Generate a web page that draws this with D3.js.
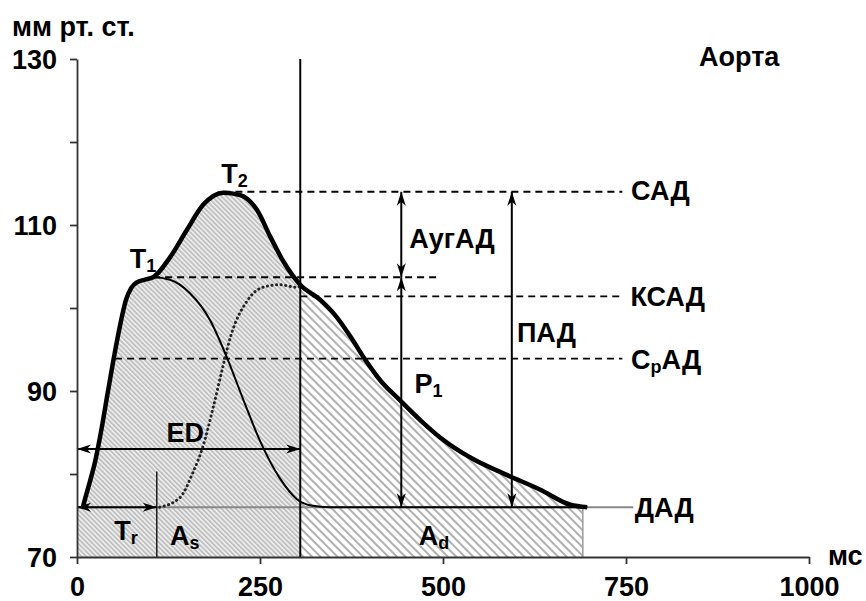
<!DOCTYPE html>
<html>
<head>
<meta charset="utf-8">
<script src="https://cdn.jsdelivr.net/npm/d3@7"></script>
<style>
  body { margin: 0; background: #fff; }
  text { font-family: "Liberation Sans", Arial, sans-serif; font-weight: bold; fill: #000; }
</style>
</head>
<body>
<svg id="chart" width="866" height="601"></svg>
<script>
// pressure curve in the aorta, ms / mm Hg
const mainMs   = [8, 11, 18, 25, 33, 42, 52, 60, 67, 74, 82, 92, 104, 127, 150, 172, 200, 223, 246, 264, 282, 305, 332, 352, 374, 392, 415, 441, 470, 496, 541, 587, 633, 674, 697];
const mainP    = [76, 77.0, 79.2, 81.6, 85.2, 89.8, 94.8, 98.4, 101.0, 102.4, 103.1, 103.4, 103.7, 106.1, 109.4, 112.4, 113.9, 113.6, 111.8, 108.6, 105.6, 102.8, 101.0, 99.2, 96.5, 94.0, 91.2, 88.9, 86.4, 84.4, 81.8, 79.9, 78.1, 76.3, 76];
// forward (first) wave
const waveMs   = [8, 11, 18, 25, 33, 42, 52, 60, 67, 74, 82, 92, 104, 127, 154, 182, 205, 227, 250, 277, 300, 320, 345, 697];
const waveP    = [76, 77.0, 79.2, 81.6, 85.2, 89.8, 94.8, 98.4, 101.0, 102.4, 103.1, 103.4, 103.7, 103.4, 101.8, 98.5, 94.0, 89.0, 84.0, 79.5, 77.0, 76.2, 76, 76];
// reflected wave
const reflMs   = [113, 141, 158, 172, 186, 200, 210, 232, 254, 277, 300, 305];
const reflP    = [76, 77.2, 80.1, 83.3, 88, 93.2, 96.6, 100.8, 102.5, 102.8, 102.5, 102.6];

const SAD = 114, T1P = 103.7, KSAD = 101.4, SrAD = 93.9, DAD = 76;
const edLevel = 83;
const ejectEnd = 305, trEnd = 109, cycleEnd = 691, arrowP1 = 443, arrowPAD = 594;

const xTicks = [0, 250, 500, 750, 1000];
const yTicks = [70, 80, 90, 100, 110, 120, 130];
const yLabels = [70, 90, 110, 130];

const FS = 27, SUB = 18;

const svg = d3.select("#chart");
const x = d3.scaleLinear().domain([0, 1000]).range([77, 809]);
const y = d3.scaleLinear().domain([70, 130]).range([557, 59]);

const zip = (a, b) => a.map((d, i) => [d, b[i]]);
const mainData = zip(mainMs, mainP);
const waveData = zip(waveMs, waveP);
const reflData = zip(reflMs, reflP);

const defs = svg.append("defs");

// fine hatch for the systolic part
const pS = defs.append("pattern")
    .attr("id", "hatchS")
    .attr("patternUnits", "userSpaceOnUse")
    .attr("width", 3.4).attr("height", 10)
    .attr("patternTransform", "rotate(-45)");
pS.append("rect").attr("width", 3.4).attr("height", 10).attr("fill", "#ececec");
pS.append("line").attr("x1", 0.8).attr("x2", 0.8).attr("y1", 0).attr("y2", 10)
    .attr("stroke", "#b2b2b2").attr("stroke-width", 1.3);

// coarse hatch for the diastolic part
const pD = defs.append("pattern")
    .attr("id", "hatchD")
    .attr("patternUnits", "userSpaceOnUse")
    .attr("width", 6).attr("height", 10)
    .attr("patternTransform", "rotate(-45)");
pD.append("rect").attr("width", 6).attr("height", 10).attr("fill", "#fff");
pD.append("line").attr("x1", 1).attr("x2", 1).attr("y1", 0).attr("y2", 10)
    .attr("stroke", "#a8a8a8").attr("stroke-width", 1.8);

defs.append("clipPath").attr("id", "clipS")
    .append("rect")
    .attr("x", x(0)).attr("y", y(130))
    .attr("width", x(ejectEnd) - x(0)).attr("height", y(70) - y(130));
defs.append("clipPath").attr("id", "clipD")
    .append("rect")
    .attr("x", x(ejectEnd)).attr("y", y(130))
    .attr("width", x(cycleEnd) - x(ejectEnd)).attr("height", y(70) - y(130));

// arrowhead
defs.append("marker")
    .attr("id", "arrow")
    .attr("viewBox", "-15 -6 17 12")
    .attr("markerWidth", 17).attr("markerHeight", 12)
    .attr("markerUnits", "userSpaceOnUse")
    .attr("refX", 0).attr("refY", 0)
    .attr("orient", "auto-start-reverse")
    .append("path")
    .attr("d", "M0,0 L-14,-4.5 L-10,0 L-14,4.5 Z")
    .attr("fill", "#000");

const curve = d3.curveMonotoneX;
const line = d3.line().x(d => x(d[0])).y(d => y(d[1])).curve(curve);
const area = d3.area().x(d => x(d[0])).y0(y(70)).y1(d => y(d[1])).curve(curve);

const areaData = [[0, DAD]].concat(mainData);
svg.append("path").attr("d", area(areaData)).attr("fill", "url(#hatchS)").attr("clip-path", "url(#clipS)");
svg.append("path").attr("d", area(areaData)).attr("fill", "url(#hatchD)").attr("clip-path", "url(#clipD)");

// right edge of the diastolic area
svg.append("line")
    .attr("x1", x(cycleEnd)).attr("x2", x(cycleEnd))
    .attr("y1", y(DAD)).attr("y2", y(70))
    .attr("stroke", "#999").attr("stroke-width", 1.5);

// ДАД baseline
svg.append("line")
    .attr("x1", x(0)).attr("x2", x(760))
    .attr("y1", y(DAD)).attr("y2", y(DAD))
    .attr("stroke", "#888").attr("stroke-width", 2);

// dashed levels
const dashed = [
    [200, 745, SAD],
    [104, 496, T1P],
    [ejectEnd, 745, KSAD],
    [52, 745, SrAD]
];
svg.append("g").selectAll("line").data(dashed).join("line")
    .attr("x1", d => x(d[0])).attr("x2", d => x(d[1]))
    .attr("y1", d => y(d[2])).attr("y2", d => y(d[2]))
    .attr("stroke", "#000").attr("stroke-width", 1.9)
    .attr("stroke-dasharray", "7,5");

// end of ejection
svg.append("line")
    .attr("x1", x(ejectEnd)).attr("x2", x(ejectEnd))
    .attr("y1", y(130)).attr("y2", y(70))
    .attr("stroke", "#000").attr("stroke-width", 2);

// Tr boundary
svg.append("line")
    .attr("x1", x(trEnd)).attr("x2", x(trEnd))
    .attr("y1", y(80.3)).attr("y2", y(70))
    .attr("stroke", "#000").attr("stroke-width", 1.3);

// curves
svg.append("path").attr("d", line(reflData))
    .attr("fill", "none").attr("stroke", "#222").attr("stroke-width", 3)
    .attr("stroke-dasharray", "0.1,4.5").attr("stroke-linecap", "round");
svg.append("path").attr("d", line(waveData))
    .attr("fill", "none").attr("stroke", "#000").attr("stroke-width", 2);
svg.append("path").attr("d", line(mainData))
    .attr("fill", "none").attr("stroke", "#000").attr("stroke-width", 4.5)
    .attr("stroke-linejoin", "round");

// arrows
const arrows = [
    [0, edLevel, ejectEnd, edLevel],
    [0, DAD, trEnd, DAD],
    [arrowP1, SAD, arrowP1, T1P],
    [arrowP1, T1P, arrowP1, DAD],
    [arrowPAD, SAD, arrowPAD, DAD]
];
svg.append("g").selectAll("line").data(arrows).join("line")
    .attr("x1", d => x(d[0])).attr("y1", d => y(d[1]))
    .attr("x2", d => x(d[2])).attr("y2", d => y(d[3]))
    .attr("stroke", "#000").attr("stroke-width", 2)
    .attr("marker-start", "url(#arrow)").attr("marker-end", "url(#arrow)");

// axes
const yAxis = svg.append("g")
    .attr("transform", `translate(${x(0)},0)`)
    .call(d3.axisLeft(y).tickValues(yTicks).tickSize(7).tickSizeOuter(0).tickPadding(13)
        .tickFormat(d => yLabels.includes(d) ? d : ""));
const xAxis = svg.append("g")
    .attr("transform", `translate(0,${y(70)})`)
    .call(d3.axisBottom(x).tickValues(xTicks).tickSize(7).tickSizeOuter(0).tickPadding(13)
        .tickFormat(d3.format("d")));
[yAxis, xAxis].forEach(g => {
    g.select(".domain").attr("stroke", "#333").attr("stroke-width", 1.8);
    g.selectAll(".tick line").attr("stroke", "#333").attr("stroke-width", 1.8);
    g.selectAll(".tick text").attr("font-size", FS).attr("font-weight", "bold")
        .attr("font-family", "'Liberation Sans', Arial, sans-serif").attr("fill", "#000");
});
yAxis.selectAll(".tick text").attr("dy", "0.36em");

// text labels
function label(px, py, main) {
    const t = svg.append("text").attr("x", px).attr("y", py).attr("font-size", FS);
    main.forEach((part, i) => {
        t.append("tspan").text(part[0])
            .attr("font-size", part[1] ? SUB : null)
            .attr("dy", i === 0 ? null : (part[1] ? 4 : -4));
    });
    return t;
}

label(12, 36, [["мм рт. ст."]]);
label(828, 565, [["мс"]]);
label(699, 66, [["Аорта"]]);
label(x(757), y(114) + 8, [["САД"]]);
label(x(756), y(101.4) + 10, [["КСАД"]]);
label(x(757), y(SrAD) + 10, [["С"], ["р", true], ["АД"]]);
label(x(762), y(DAD) + 10, [["ДАД"]]);
label(x(72), y(104.8), [["T"], ["1", true]]);
label(x(197), y(115.1), [["T"], ["2", true]]);
label(x(454), y(107.2), [["АугАД"]]);
label(x(601), y(95.9), [["ПАД"]]);
label(x(461), y(89.8), [["P"], ["1", true]]);
label(x(148), y(83.9), [["ED"]]).attr("text-anchor", "middle");
label(x(51), y(72), [["T"], ["r", true]]);
label(x(127), y(71.4), [["A"], ["s", true]]);
label(x(467), y(71.4), [["A"], ["d", true]]);
</script>
</body>
</html>
